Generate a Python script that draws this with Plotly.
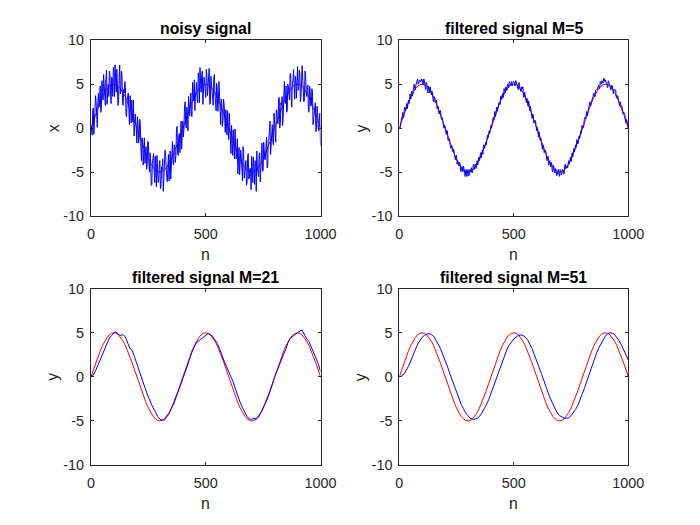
import plotly.graph_objects as go

# ---------------- data ----------------
n_step10 = list(range(0, 1001, 10))
n_step5 = list(range(0, 1001, 5))
n_step2_5 = [k * 2.5 for k in range(401)]

reference_sine = [
    0, 0.78, 1.55, 2.27, 2.94, 3.54, 4.05, 4.46, 4.76, 4.94, 5, 4.94, 4.76, 4.46, 4.05, 3.54, 2.94, 2.27, 1.55, 0.78,
    0, -0.78, -1.55, -2.27, -2.94, -3.54, -4.05, -4.46, -4.76, -4.94, -5, -4.94, -4.76, -4.46, -4.05, -3.54, -2.94, -2.27, -1.55, -0.78,
    0, 0.78, 1.55, 2.27, 2.94, 3.54, 4.05, 4.46, 4.76, 4.94, 5, 4.94, 4.76, 4.46, 4.05, 3.54, 2.94, 2.27, 1.55, 0.78,
    0, -0.78, -1.55, -2.27, -2.94, -3.54, -4.05, -4.46, -4.76, -4.94, -5, -4.94, -4.76, -4.46, -4.05, -3.54, -2.94, -2.27, -1.55, -0.78,
    0, 0.78, 1.55, 2.27, 2.94, 3.54, 4.05, 4.46, 4.76, 4.94, 5, 4.94, 4.76, 4.46, 4.05, 3.54, 2.94, 2.27, 1.55, 0.78,
    0,
]

# noisy samples at n = 0, 5, 10, ..., 1000
noisy_signal = [
    0.3, -0.8, 2.3, 0.8, 3.7, 0.3, 3.1, 2.4, 4.8, 2.2, 4.1, 6.1, 3.2, 5.5, 2.7, 5.0, 6.5, 4.3, 5.8, 3.6,
    6.6, 7.2, 4.1, 5.4, 2.9, 7.2, 4.2, 6.1, 2.6, 4.0, 4.6, 1.3, 3.6, 2.1, 3.7, 0.6, 1.7, 3.2, -0.2, 1.0,
    -1.7, 0.5, -1.0, 0.3, -3.7, -1.5, -1.1, -4.0, -2.1, -4.0, -1.6, -5.0, -3.8, -6.5, -3.5, -5.0, -3.2, -6.7, -4.4, -5.9,
    -3.7, -6.6, -4.7, -7.2, -4.1, -3.1, -5.6, -4.3, -6.0, -2.6, -4.1, -1.5, -4.2, -2.2, -3.1, 0.2, -3.1, -0.6, 0.3, -2.4,
    0.8, -0.1, 3.0, 0.0, 1.9, 3.6, 1.4, 4.0, 1.3, 3.8, 5.5, 3.5, 5.2, 2.9, 5.4, 6.9, 4.1, 6.5, 3.8, 5.2,
    3.5, 6.0, 4.5, 6.8, 2.8, 5.2, 3.3, 5.6, 4.0, 2.0, 4.4, 2.7, 4.4, 0.4, 2.7, 0.9, 2.8, -0.5, 1.1, 2.0,
    -1.3, 0.3, -2.9, -1.0, -0.2, -3.5, -1.5, -2.9, -5.2, -2.2, -4.4, -3.3, -6.0, -2.6, -5.0, -3.7, -6.2, -2.9, -5.7, -4.6,
    -3.2, -6.2, -4.3, -3.7, -7.2, -4.5, -5.5, -2.8, -4.7, -1.7, -4.8, -2.4, -3.3, -1.0, -4.2, -1.2, 0.8, -2.0, 0.4, -1.9,
    0.4, -1.6, 1.9, 0.5, 3.5, 0.5, 2.6, 0.3, 3.7, 3.1, 4.8, 2.0, 4.7, 3.2, 6.2, 2.4, 5.3, 4.0, 5.9, 3.4,
    7.0, 4.4, 6.3, 3.6, 7.1, 4.8, 3.5, 6.1, 3.6, 4.9, 1.8, 4.2, 2.6, 4.2, 1.1, 2.3, -0.4, 2.5, 0.0, 0.9,
    -2.0,
]

# noisy samples at n = 2.5, 7.5, ..., 997.5
noisy_signal_mid = [
    -0.7, 2.0, -0.7, 2.0, 2.8, 0.1, 4.0, 3.1, 1.8, 5.4, 3.2, 4.7, 2.6, 6.6, 4.7, 3.6, 6.1, 2.8, 5.7, 6.9,
    3.6, 5.4, 6.7, 2.6, 5.6, 3.9, 6.5, 3.0, 4.4, 5.3, 1.6, 3.2, 4.0, 0.4, 2.9, 3.2, 0.7, -0.9, 1.6, -0.1,
    1.3, -1.7, 1.0, -2.2, -1.1, -4.2, -1.1, -2.6, -4.7, -1.5, -4.1, -2.8, -6.5, -3.7, -2.9, -6.2, -4.5, -3.1, -6.2, -4.1,
    -6.9, -4.4, -3.5, -5.8, -2.5, -5.0, -6.1, -3.0, -3.5, -5.8, -1.7, -3.9, -1.9, -3.9, -0.1, -2.9, -0.9, -2.8, 0.8, -0.1,
    -1.0, 2.4, 0.4, 2.4, -0.3, 2.8, 3.9, 1.4, 5.2, 3.1, 2.0, 5.1, 3.3, 6.3, 2.9, 5.1, 6.1, 2.7, 5.8, 4.5,
    6.7, 3.7, 5.5, 2.7, 5.9, 4.8, 2.6, 6.1, 3.2, 5.1, 1.9, 5.3, 2.4, 3.3, 0.2, 3.3, 1.2, 2.1, -0.8, -0.6,
    1.7, -1.2, 0.3, -3.1, -1.2, -0.1, -3.5, -1.2, -2.4, -5.3, -2.5, -4.3, -2.1, -5.7, -3.7, -6.5, -3.3, -5.8, -4.6, -7.0,
    -4.4, -3.3, -6.4, -3.9, -2.6, -5.3, -3.1, -6.1, -3.7, -4.9, -1.6, -3.6, -1.8, -4.5, -1.4, -0.3, -3.0, -0.5, -1.6, 1.7,
    -1.1, 2.1, 0.6, 3.4, 0.0, 2.9, 3.6, 1.4, 5.3, 2.8, 1.8, 5.0, 3.9, 6.2, 3.3, 5.3, 6.7, 3.3, 5.4, 6.3,
    4.3, 6.6, 3.0, 5.3, 5.7, 3.0, 6.5, 4.0, 4.8, 1.9, 4.8, 2.5, 4.5, 0.4, 2.4, 2.9, 0.1, 1.8, -0.3, 1.7,
]

# filtered (M=5) samples at n = 0, 5, ..., 1000
filtered_m5 = [
    0.1, 0.2, 1.2, 1.8, 1.3, 2.4, 2.5, 2.2, 3.2, 3.9, 3.3, 4.2, 4.2, 5.0, 4.4, 5.1, 5.6, 5.1, 5.5, 5.3,
    5.5, 4.9, 5.3, 4.4, 5.1, 4.0, 4.6, 4.7, 3.8, 4.0, 3.0, 3.4, 3.2, 2.2, 2.5, 1.6, 2.0, 1.0, 0.9, 0.0,
    0.2, -0.7, -0.3, -1.4, -1.5, -2.3, -2.0, -2.7, -2.7, -3.6, -3.1, -3.7, -4.3, -4.0, -4.9, -4.4, -4.3, -5.2, -4.8, -5.5,
    -4.7, -5.4, -4.7, -4.5, -5.0, -4.1, -4.4, -4.6, -3.7, -3.6, -3.7, -2.8, -2.8, -3.0, -2.0, -1.7, -1.9, -0.8, -0.7, -0.6,
    0.3, 0.3, 1.2, 1.4, 1.3, 2.4, 2.4, 2.9, 2.7, 3.7, 3.7, 3.5, 4.2, 4.7, 4.3, 4.9, 5.3, 4.8, 5.3, 5.2,
    5.3, 4.8, 5.4, 5.0, 4.4, 4.8, 4.2, 4.7, 4.7, 3.6, 3.8, 2.9, 3.1, 3.1, 2.0, 2.0, 1.1, 1.5, 0.6, 0.8,
    -0.3, -0.2, -0.4, -1.4, -1.5, -2.4, -2.0, -2.7, -2.7, -3.7, -3.2, -3.7, -4.4, -3.9, -5.0, -4.4, -5.1, -4.8, -5.3, -4.7,
    -5.5, -4.8, -5.2, -4.8, -5.2, -4.1, -4.3, -4.5, -3.7, -3.7, -3.8, -2.8, -2.7, -2.7, -1.9, -1.3, -1.8, -0.9, -0.7, -0.6,
    0.2, 0.1, 1.2, 1.3, 1.4, 2.4, 2.6, 2.5, 3.3, 3.5, 4.0, 3.6, 4.4, 4.4, 4.9, 4.5, 5.1, 5.4, 5.1, 5.6,
    5.5, 5.2, 4.6, 5.3, 4.9, 4.4, 4.8, 3.9, 4.3, 4.3, 3.4, 3.6, 2.7, 3.0, 2.4, 1.6, 1.8, 1.6, 0.6, 0.7,
    0.0,
]

# filtered (M=5) samples at n = 2.5, 7.5, ..., 997.5
filtered_m5_mid = [
    -0.1, 1.1, 1.1, 1.2, 2.3, 2.0, 2.8, 3.0, 2.8, 3.9, 4.0, 3.7, 4.8, 4.5, 4.9, 5.4, 5.0, 5.4, 5.3, 5.6,
    5.2, 5.6, 4.7, 5.2, 4.4, 4.8, 4.0, 4.3, 4.2, 3.2, 3.6, 2.9, 3.2, 2.3, 1.7, 2.0, 1.2, 1.2, 0.3, 0.3,
    -0.4, -0.3, -1.4, -1.2, -2.2, -2.0, -2.6, -2.4, -3.4, -3.2, -4.1, -4.0, -3.9, -4.9, -4.4, -5.0, -4.6, -5.5, -4.7, -5.2,
    -5.4, -4.7, -5.0, -5.1, -4.3, -4.7, -4.1, -4.1, -4.2, -3.3, -3.2, -3.4, -2.5, -1.9, -2.3, -1.6, -1.0, -1.1, -0.3, 0.0,
    0.0, 1.0, 0.9, 1.9, 1.9, 1.9, 2.8, 2.9, 3.6, 3.3, 4.0, 4.5, 4.0, 4.6, 5.0, 4.6, 5.1, 5.3, 4.8, 5.3,
    4.8, 5.4, 5.0, 4.5, 5.2, 4.7, 4.2, 4.5, 3.5, 4.1, 3.3, 3.4, 2.5, 2.6, 2.5, 1.4, 1.6, 0.6, 0.9, 0.1,
    0.1, -1.0, -0.9, -1.1, -2.0, -1.9, -2.8, -2.5, -3.3, -3.3, -4.2, -3.7, -4.1, -4.8, -4.2, -5.0, -4.6, -5.4, -4.9, -5.3,
    -4.7, -5.3, -4.7, -5.2, -4.3, -4.6, -4.3, -3.9, -4.1, -3.3, -3.2, -3.3, -2.3, -2.1, -2.2, -1.5, -1.0, -1.2, -0.3, 0.3,
    0.0, 1.0, 1.1, 1.9, 1.6, 2.4, 3.0, 2.9, 3.3, 3.9, 3.6, 4.3, 4.4, 4.9, 4.6, 5.3, 5.0, 5.3, 5.7, 5.3,
    5.2, 4.8, 5.4, 4.9, 4.4, 4.9, 4.3, 4.4, 4.4, 3.5, 3.7, 3.2, 2.5, 2.6, 2.5, 1.6, 1.7, 0.8, 1.0, 0.1,
]

filtered_m21 = [
    0.1, 0.2, 0.7, 1.3, 2.0, 2.4, 3.0, 3.8, 4.4, 4.7,
    5.0, 5.1, 4.8, 4.7, 4.8, 4.5, 3.8, 3.2, 3.0, 2.2,
    1.5, 0.6, -0.2, -1.0, -1.6, -2.3, -3.0, -3.5, -3.9, -4.5,
    -4.8, -4.9, -4.9, -4.6, -4.2, -3.6, -3.1, -2.4, -1.6, -0.9,
    -0.2, 0.5, 1.3, 2.1, 2.8, 3.4, 3.9, 4.1, 4.3, 4.4,
    4.7, 4.9, 4.8, 4.6, 4.2, 3.8, 3.2, 2.4, 1.8, 1.2,
    0.6, 0.2, -0.6, -1.4, -2.2, -2.9, -3.5, -4.0, -4.5, -4.8,
    -4.8, -4.7, -4.8, -4.6, -4.1, -3.6, -3.0, -2.4, -1.7, -0.9,
    0.0, 0.7, 1.4, 2.0, 2.6, 3.2, 4.0, 4.4, 4.6, 4.9,
    5.0, 5.2, 5.3, 4.8, 4.3, 4.0, 3.4, 2.7, 2.3, 1.5,
    0.6,
]

filtered_m51 = [
    0.0, 0.1, 0.3, 0.7, 1.2, 1.8, 2.5, 3.1, 3.7, 4.1,
    4.5, 4.7, 4.85, 4.9, 4.8, 4.6, 4.2, 3.7, 3.2, 2.6,
    1.9, 1.2, 0.4, -0.3, -1.1, -1.8, -2.5, -3.1, -3.6, -4.1,
    -4.4, -4.7, -4.8, -4.8, -4.7, -4.5, -4.1, -3.7, -3.2, -2.6,
    -1.9, -1.2, -0.4, 0.4, 1.1, 1.8, 2.5, 3.1, 3.6, 4.0,
    4.3, 4.5, 4.7, 4.75, 4.7, 4.5, 4.2, 3.7, 3.2, 2.5,
    1.9, 1.1, 0.4, -0.4, -1.1, -1.8, -2.5, -3.1, -3.6, -4.1,
    -4.4, -4.6, -4.7, -4.7, -4.65, -4.4, -4.1, -3.7, -3.2, -2.6,
    -1.9, -1.2, -0.4, 0.4, 1.1, 1.9, 2.6, 3.2, 3.8, 4.2,
    4.6, 4.9, 5.0, 4.95, 4.8, 4.5, 4.1, 3.6, 3.1, 2.5,
    1.9,
]

panel_titles = ["noisy signal", "filtered signal M=5", "filtered signal M=21", "filtered signal M=51"]
panel_ylabels = ["x", "y", "y", "y"]
x_ticks = [0, 500, 1000]
x_tick_labels = ["0", "500", "1000"]
y_ticks = [-10, -5, 0, 5, 10]
y_tick_labels = ["-10", "-5", "0", "5", "10"]


def interleave(main, mid):
    """merge samples at n=0,5,... with samples at n=2.5,7.5,... in n order"""
    out = []
    for a, b in zip(main[:-1], mid):
        out += [a, b]
    out.append(main[-1])
    return out


noisy_full = interleave(noisy_signal, noisy_signal_mid)
m5_full = interleave(filtered_m5, filtered_m5_mid)

# ---------------- figure ----------------
W, H = 700, 525
OFF = 8  # the page is shown with an 8px body margin
TXT = "#262626"
FONT = "Liberation Sans, Arial, Helvetica, sans-serif"

# pixel boxes of axes in the reference (left, right, top, bottom)
boxes = [
    (91.0, 320.5, 40.3, 216.0),
    (399.3, 628.3, 40.3, 216.0),
    (91.0, 320.5, 288.7, 465.0),
    (399.3, 628.3, 288.7, 465.0),
]

blue_series = [(n_step2_5, noisy_full), (n_step2_5, m5_full), (n_step10, filtered_m21), (n_step10, filtered_m51)]

fig = go.Figure()
annotations = []
layout_axes = {}
for k in range(4):
    sfx = "" if k == 0 else str(k + 1)
    xa, ya = "x" + sfx, "y" + sfx
    fig.add_trace(go.Scatter(x=n_step10, y=reference_sine, mode="lines",
                             line=dict(color="#ff0000", width=1), xaxis=xa, yaxis=ya,
                             hoverinfo="skip"))
    bx, by = blue_series[k]
    fig.add_trace(go.Scatter(x=bx, y=by, mode="lines",
                             line=dict(color="#0000ff", width=1), xaxis=xa, yaxis=ya,
                             hoverinfo="skip"))
    l, r, t, b = [v - OFF for v in boxes[k]]
    common = dict(ticks="inside", ticklen=3, tickcolor=TXT, showline=True, linecolor=TXT,
                  linewidth=1, mirror="ticks", showgrid=False, zeroline=False, automargin=False,
                  tickfont=dict(family=FONT, size=14.4, color=TXT))
    layout_axes["xaxis" + sfx] = dict(domain=[l / W, r / W], range=[0, 1000], tickvals=x_ticks,
                                      ticktext=x_tick_labels, anchor=ya, ticklabelstandoff=5, **common)
    layout_axes["yaxis" + sfx] = dict(domain=[1 - b / H, 1 - t / H], range=[-10, 10], tickvals=y_ticks,
                                      ticktext=y_tick_labels, anchor=xa, ticklabelstandoff=3, **common)
    cx = (l + r) / 2
    annotations.append(dict(text="<b>" + panel_titles[k] + "</b>", x=cx / W, y=1 - (t - 11.5) / H,
                            xref="paper", yref="paper", xanchor="center", yanchor="middle",
                            showarrow=False, font=dict(family=FONT, size=15.8, color="#000000")))
    annotations.append(dict(text="n", x=cx / W, y=1 - (b + 38) / H,
                            xref="paper", yref="paper", xanchor="center", yanchor="middle",
                            showarrow=False, font=dict(family=FONT, size=15.8, color=TXT)))
    annotations.append(dict(text=panel_ylabels[k], x=(l - 38) / W, y=1 - ((t + b) / 2) / H,
                            xref="paper", yref="paper", xanchor="center", yanchor="middle",
                            textangle=-90, showarrow=False, font=dict(family=FONT, size=15.8, color=TXT)))

fig.update_layout(width=W, height=H, autosize=False, template="none",
                  margin=dict(l=0, r=0, t=0, b=0, pad=0),
                  paper_bgcolor="white", plot_bgcolor="white", showlegend=False,
                  annotations=annotations, **layout_axes)

fig.write_html("out.html")
